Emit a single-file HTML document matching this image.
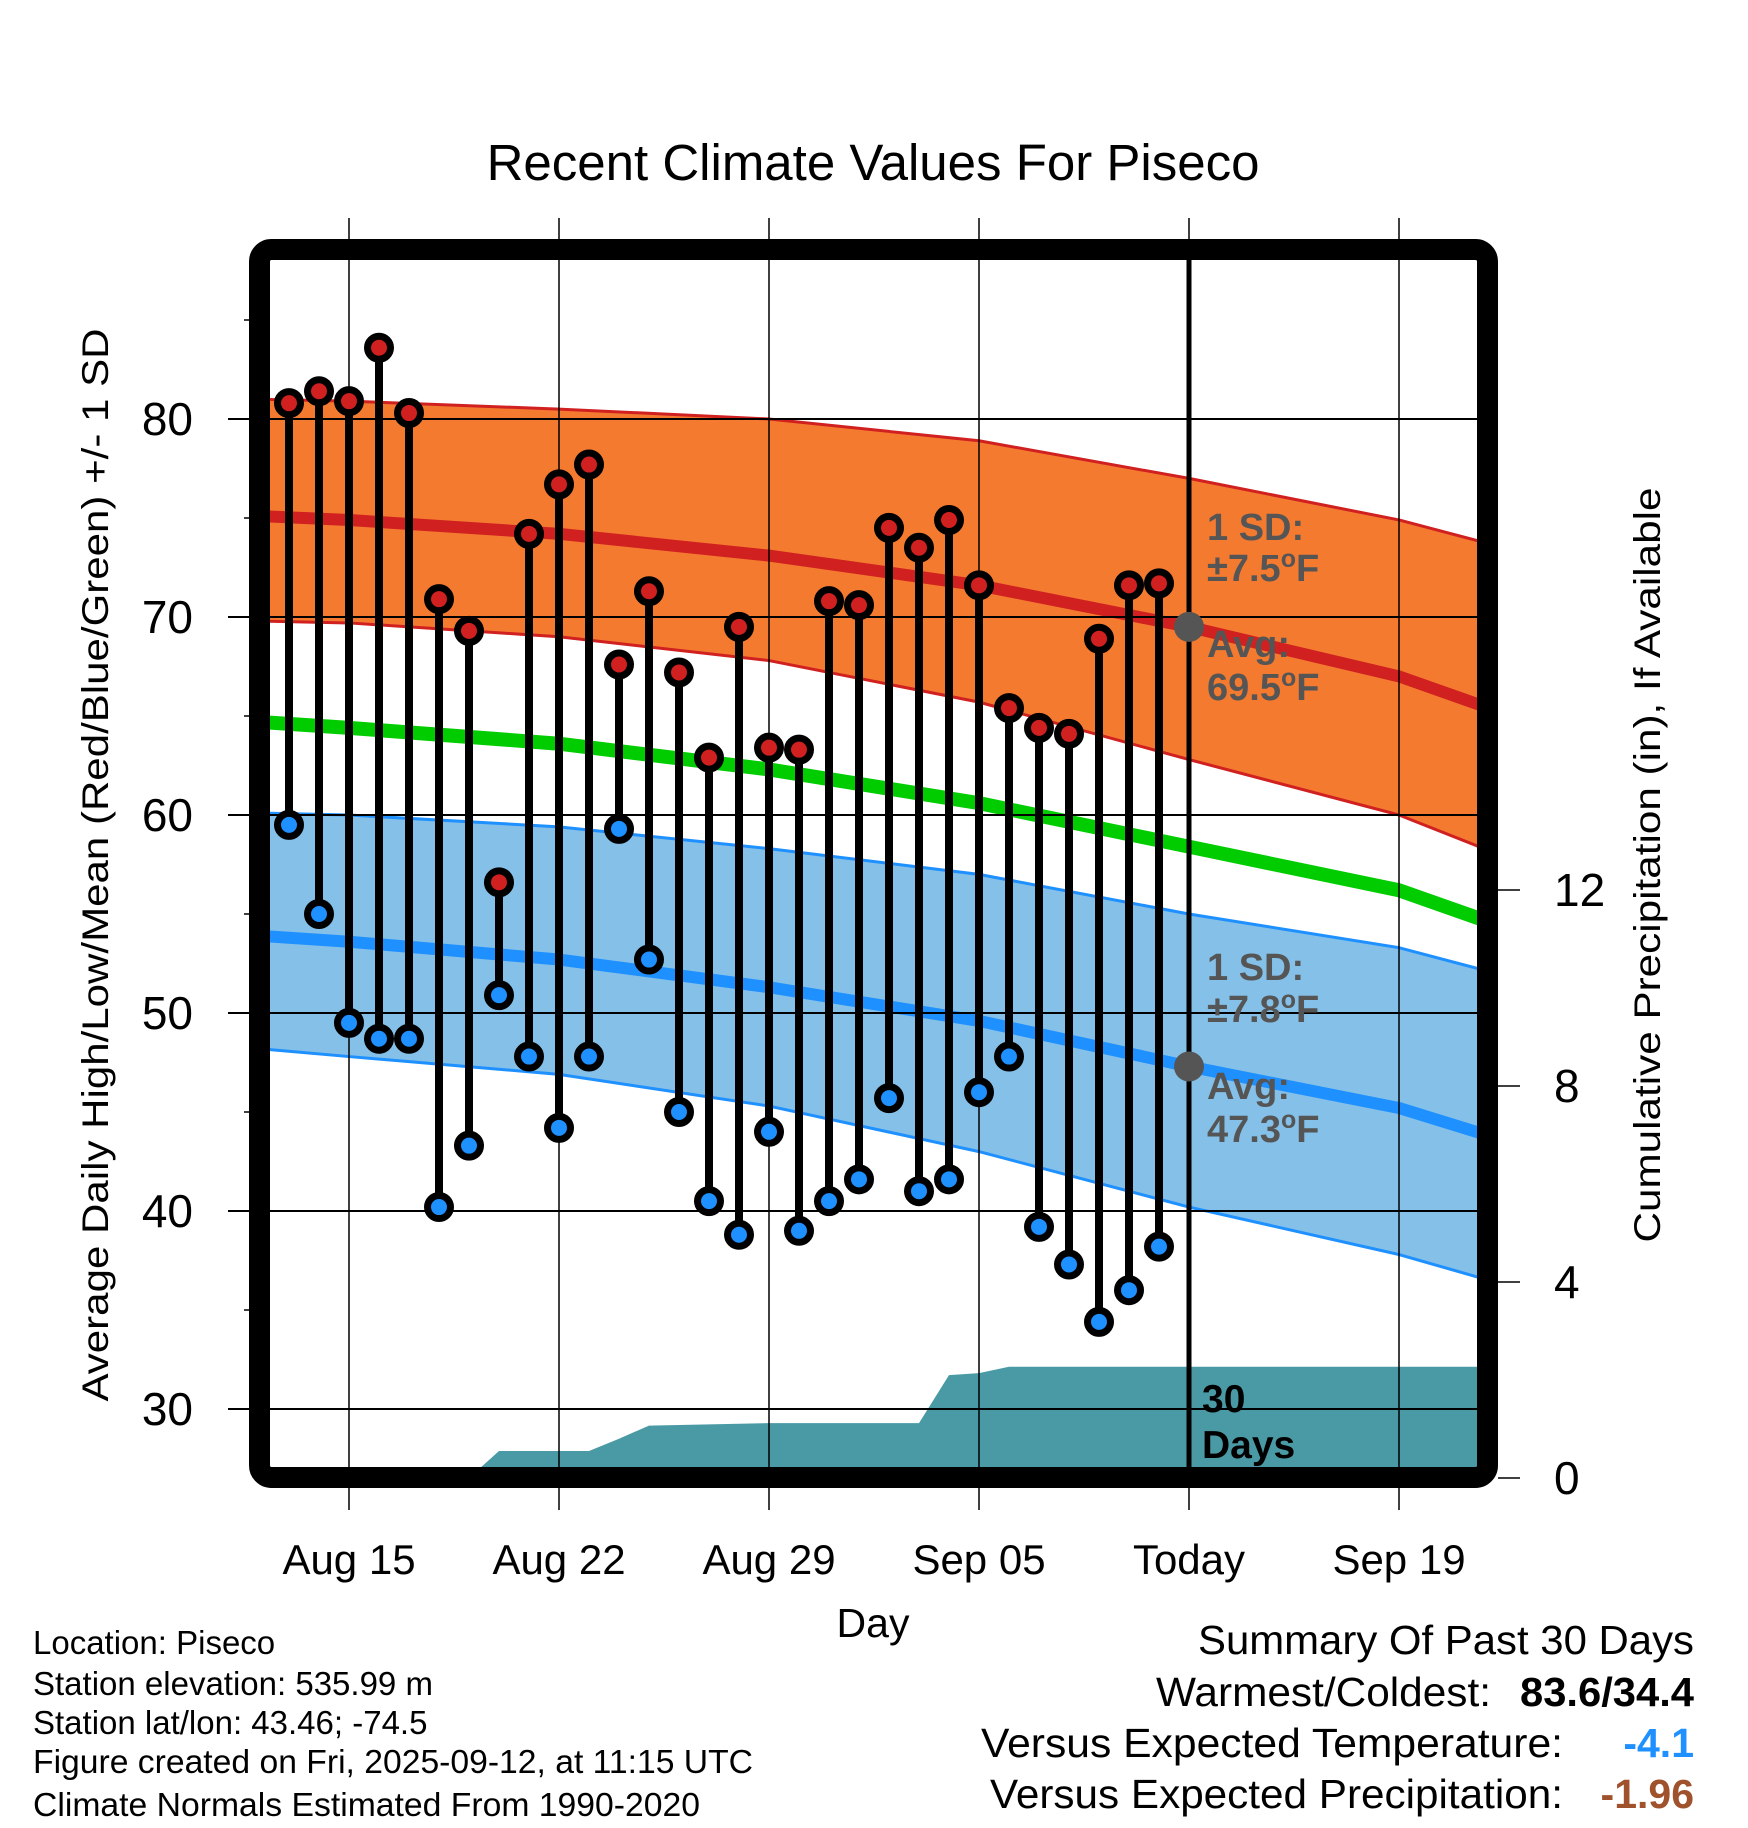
<!DOCTYPE html>
<html><head><meta charset="utf-8"><style>
html,body{margin:0;padding:0;background:#fff}
svg{display:block;font-family:"Liberation Sans",Arial,sans-serif}
</style></head><body>
<svg id="chart" width="1748" height="1828" viewBox="0 0 1748 1828">
<defs><clipPath id="plotclip"><rect x="270" y="260" width="1208" height="1208"/></clipPath></defs>
<g id="bands" clip-path="url(#plotclip)"></g>
<g id="grid"></g>
<g id="marks" clip-path="url(#plotclip)"></g>
<rect x="259.5" y="249.5" width="1228" height="1228" rx="12" fill="none" stroke="#000" stroke-width="21"/>
<g id="axes"></g>
<text x="873" y="180" text-anchor="middle" font-size="51">Recent Climate Values For Piseco</text>
<text transform="translate(108,865) rotate(-90)" text-anchor="middle" font-size="37" textLength="1073" lengthAdjust="spacingAndGlyphs">Average Daily High/Low/Mean (Red/Blue/Green) +/- 1 SD</text>
<text transform="translate(1660,865) rotate(-90)" text-anchor="middle" font-size="37" textLength="755" lengthAdjust="spacingAndGlyphs">Cumulative Precipitation (in), If Available</text>
<text x="873" y="1637" text-anchor="middle" font-size="41">Day</text>
<g font-weight="bold" font-size="38" fill="#555">
<text x="1207" y="540">1 SD:</text>
<text x="1207" y="581">±7.5<tspan font-size="25" dy="-14">o</tspan><tspan dy="14">F</tspan></text>
<text x="1207" y="657">Avg:</text>
<text x="1207" y="700">69.5<tspan font-size="25" dy="-14">o</tspan><tspan dy="14">F</tspan></text>
<text x="1207" y="980">1 SD:</text>
<text x="1207" y="1022">±7.8<tspan font-size="25" dy="-14">o</tspan><tspan dy="14">F</tspan></text>
<text x="1207" y="1099">Avg:</text>
<text x="1207" y="1142">47.3<tspan font-size="25" dy="-14">o</tspan><tspan dy="14">F</tspan></text>
</g>
<g font-weight="bold" font-size="39" fill="#000">
<text x="1202" y="1412">30</text><text x="1202" y="1458">Days</text>
</g>
<g font-size="33">
<text x="33" y="1654">Location: Piseco</text>
<text x="33" y="1695">Station elevation: 535.99 m</text>
<text x="33" y="1734">Station lat/lon: 43.46; -74.5</text>
<text x="33" y="1773" textLength="720" lengthAdjust="spacingAndGlyphs">Figure created on Fri, 2025-09-12, at 11:15 UTC</text>
<text x="33" y="1816" textLength="667" lengthAdjust="spacingAndGlyphs">Climate Normals Estimated From 1990-2020</text>
</g>
<g font-size="41">
<text x="1694" y="1654" text-anchor="end" textLength="496" lengthAdjust="spacingAndGlyphs">Summary Of Past 30 Days</text>
<text x="1491" y="1706" text-anchor="end" textLength="335" lengthAdjust="spacingAndGlyphs">Warmest/Coldest:</text>
<text x="1694" y="1706" text-anchor="end" font-weight="bold" textLength="174" lengthAdjust="spacingAndGlyphs">83.6/34.4</text>
<text x="1563" y="1757" text-anchor="end" textLength="582" lengthAdjust="spacingAndGlyphs">Versus Expected Temperature:</text>
<text x="1694" y="1757" text-anchor="end" font-weight="bold" fill="#1E90FF">-4.1</text>
<text x="1563" y="1808" text-anchor="end" textLength="573" lengthAdjust="spacingAndGlyphs">Versus Expected Precipitation:</text>
<text x="1694" y="1808" text-anchor="end" font-weight="bold" fill="#A0522D">-1.96</text>
</g>
</svg>
<script>
// day index = days since Aug 12
const normDays=[0,3,10,17,24,31,38,41];
const hiAvg=[75.1,74.9,74.2,73.1,71.6,69.5,67.0,65.4];
const hiUpper=[81.0,80.9,80.5,80.0,78.9,77.0,74.9,73.7];
const hiLower=[69.8,69.7,69.0,67.8,65.7,62.8,60.0,58.2];
const loAvg=[53.9,53.6,52.7,51.3,49.6,47.3,45.2,43.8];
const loUpper=[60.1,60.0,59.4,58.3,57.0,55.0,53.3,52.1];
const loLower=[48.2,47.8,46.9,45.3,43.0,40.2,37.8,36.5];
const meanAvg=[64.7,64.4,63.6,62.3,60.6,58.4,56.2,54.6];
const obsDays=[1,2,3,4,5,6,7,8,9,10,11,12,13,14,15,16,17,18,19,20,21,22,23,24,25,26,27,28,29,30];
const highs=[80.8,81.4,80.9,83.6,80.3,70.9,69.3,56.6,74.2,76.7,77.7,67.6,71.3,67.2,62.9,69.5,63.4,63.3,70.8,70.6,74.5,73.5,74.9,71.6,65.4,64.4,64.1,68.9,71.6,71.7];
const lows=[59.5,55.0,49.5,48.7,48.7,40.2,43.3,50.9,47.8,44.2,47.8,59.3,52.7,45.0,40.5,38.8,44.0,39.0,40.5,41.6,45.7,41.0,41.6,46.0,47.8,39.2,37.3,34.4,36.0,38.2];
const precipDays=[0,7,8,11,12,13,17,22,23,24,25,41];
const precip=[0,0,0.55,0.55,0.8,1.07,1.12,1.12,2.1,2.14,2.27,2.27];
const tempTicks=[30,40,50,60,70,80];
const precipTicks=[0,4,8,12];
const xTickDays=[3,10,17,24,31,38];
const xTickLabels=["Aug 15","Aug 22","Aug 29","Sep 05","Today","Sep 19"];
const todayDay=31, todayHi=69.5, todayLo=47.3;

const NS='http://www.w3.org/2000/svg';
const X=d=>349+(d-3)*30;
const Y=v=>419-(v-80)*19.8;
const P=v=>1478-v*49;
function mk(parent,tag,attrs){const e=document.createElementNS(NS,tag);for(const k in attrs)e.setAttribute(k,attrs[k]);parent.appendChild(e);return e;}
const bands=document.getElementById('bands'),grid=document.getElementById('grid'),marks=document.getElementById('marks'),axes=document.getElementById('axes');
function pts(days,vals,f){return days.map((d,i)=>X(d)+','+f(vals[i])).join(' ');}
function band(up,lo,fill,edge,name){
  const p=pts(normDays,up,Y)+' '+normDays.slice().reverse().map((d,i)=>X(d)+','+Y(lo[lo.length-1-i])).join(' ');
  let e=mk(bands,'polygon',{points:p,fill:fill});
  
  
  e=mk(bands,'polyline',{points:pts(normDays,up,Y),fill:'none',stroke:edge,'stroke-width':3});
  
  
  e=mk(bands,'polyline',{points:pts(normDays,lo,Y),fill:'none',stroke:edge,'stroke-width':3});
  
  
}
band(hiUpper,hiLower,'#F47A30','#D02020','high');
band(loUpper,loLower,'#84C0E8','#1E90FF','low');
let e=mk(bands,'polyline',{points:pts(normDays,hiAvg,Y),fill:'none',stroke:'#D02020','stroke-width':12,'stroke-linejoin':'round'});


e=mk(bands,'polyline',{points:pts(normDays,loAvg,Y),fill:'none',stroke:'#1E90FF','stroke-width':12,'stroke-linejoin':'round'});


e=mk(bands,'polyline',{points:pts(normDays,meanAvg,Y),fill:'none',stroke:'#00CC00','stroke-width':14,'stroke-linejoin':'round'});


const pp=pts(precipDays,precip,P)+' '+X(precipDays[precipDays.length-1])+','+P(0)+' '+X(precipDays[0])+','+P(0);
e=mk(bands,'polygon',{points:pp,fill:'#4A9AA5'});


// grid
tempTicks.forEach(t=>{
  const g=mk(grid,'line',{x1:228,x2:1478,y1:Y(t),y2:Y(t),stroke:'#000','stroke-width':2});
  
  
  const l=mk(axes,'text',{x:193,y:Y(t)+16,'text-anchor':'end','font-size':46});
  l.textContent=t;
  
  
});
for(let v=30;v<=85;v+=10){mk(grid,'line',{x1:244,x2:250,y1:Y(v+5),y2:Y(v+5),stroke:'#000','stroke-width':1.5});}
xTickDays.forEach((d,i)=>{
  const g=mk(grid,'line',{x1:X(d),x2:X(d),y1:218,y2:1510,stroke:'#000','stroke-width':1.5});
  
  
  const l=mk(axes,'text',{x:X(d),y:1574,'text-anchor':'middle','font-size':42});
  l.textContent=xTickLabels[i];
  
  
});
precipTicks.forEach(t=>{
  mk(axes,'line',{x1:1498,x2:1520,y1:P(t),y2:P(t),stroke:'#000','stroke-width':1.5});
  const l=mk(axes,'text',{x:1554,y:P(t)+16,'font-size':46});
  l.textContent=t;
  
  
});
// today line over bands
e=mk(marks,'line',{x1:X(todayDay),x2:X(todayDay),y1:260,y2:1468,stroke:'#000','stroke-width':5});


obsDays.forEach((d,i)=>{
  const s=mk(marks,'line',{x1:X(d),x2:X(d),y1:Y(highs[i]),y2:Y(lows[i]),stroke:'#000','stroke-width':8});
  
  
  const h=mk(marks,'circle',{cx:X(d),cy:Y(highs[i]),r:11.5,fill:'#D02020',stroke:'#000','stroke-width':7});
  
  
  const lo=mk(marks,'circle',{cx:X(d),cy:Y(lows[i]),r:11.5,fill:'#1E90FF',stroke:'#000','stroke-width':7});
  
  
});
e=mk(marks,'circle',{cx:X(todayDay),cy:Y(todayHi),r:15,fill:'#555'});


e=mk(marks,'circle',{cx:X(todayDay),cy:Y(todayLo),r:15,fill:'#555'});


</script>
</body></html>
